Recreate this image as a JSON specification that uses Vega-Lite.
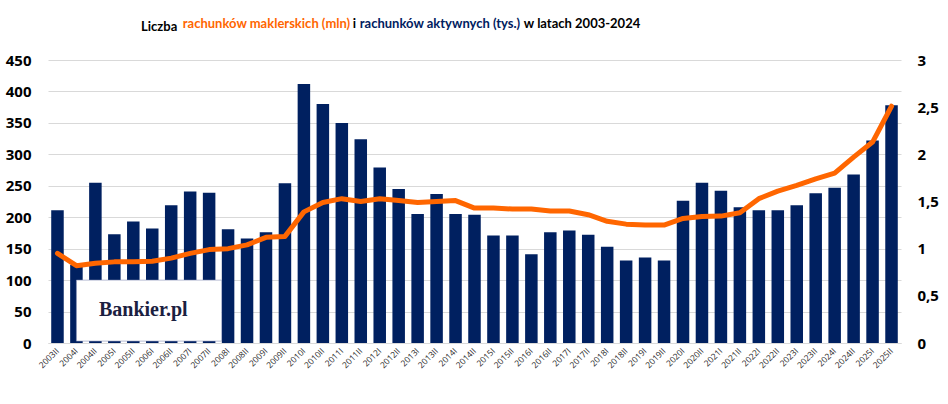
{
  "$schema": "https://vega.github.io/schema/vega-lite/v6.json",
  "width": 853,
  "height": 283,
  "autosize": {"type": "none"},
  "padding": {"left": 48, "top": 60, "right": 47, "bottom": 61},
  "background": "white",
  "title": {
    "text": "Liczba",
    "anchor": "start",
    "frame": "group",
    "dx": 93,
    "offset": -27,
    "baseline": "alphabetic",
    "font": "Lato",
    "fontSize": 13,
    "fontWeight": "bold",
    "color": "#000000"
  },
  "config": {
    "view": {"stroke": null},
    "locale": {"number": {"decimal": ",", "thousands": " ", "grouping": [3], "currency": ["", " zł"]}},
    "axis": {
      "titleFont": "Lato",
      "titleFontSize": 13,
      "titleFontWeight": "bold",
      "titleAngle": 0,
      "titleAlign": "left",
      "titleBaseline": "alphabetic",
      "titleAnchor": null
    }
  },
  "data": {
    "values": [
      {"p": "2003II", "a": 211, "m": 0.95},
      {"p": "2004I", "a": 124, "m": 0.82},
      {"p": "2004II", "a": 255, "m": 0.845},
      {"p": "2005I", "a": 173, "m": 0.86},
      {"p": "2005II", "a": 193, "m": 0.86},
      {"p": "2006I", "a": 182, "m": 0.867},
      {"p": "2006II", "a": 219, "m": 0.9},
      {"p": "2007I", "a": 241, "m": 0.95},
      {"p": "2007II", "a": 239, "m": 0.99},
      {"p": "2008I", "a": 181, "m": 1.0},
      {"p": "2008II", "a": 166, "m": 1.04},
      {"p": "2009I", "a": 176, "m": 1.12},
      {"p": "2009II", "a": 254, "m": 1.13},
      {"p": "2010I", "a": 412, "m": 1.39},
      {"p": "2010II", "a": 380, "m": 1.49},
      {"p": "2011I", "a": 350, "m": 1.53},
      {"p": "2011II", "a": 324, "m": 1.5},
      {"p": "2012I", "a": 279, "m": 1.53},
      {"p": "2012II", "a": 245, "m": 1.51},
      {"p": "2013I", "a": 205, "m": 1.49},
      {"p": "2013II", "a": 237, "m": 1.5},
      {"p": "2014I", "a": 205, "m": 1.51},
      {"p": "2014II", "a": 204, "m": 1.43},
      {"p": "2015I", "a": 171, "m": 1.43},
      {"p": "2015II", "a": 171, "m": 1.42},
      {"p": "2016I", "a": 141, "m": 1.42},
      {"p": "2016II", "a": 176, "m": 1.4},
      {"p": "2017I", "a": 179, "m": 1.4},
      {"p": "2017II", "a": 172, "m": 1.36},
      {"p": "2018I", "a": 153, "m": 1.29},
      {"p": "2018II", "a": 131, "m": 1.26},
      {"p": "2019I", "a": 136, "m": 1.25},
      {"p": "2019II", "a": 131, "m": 1.25},
      {"p": "2020I", "a": 226, "m": 1.32},
      {"p": "2020II", "a": 255, "m": 1.34},
      {"p": "2021I", "a": 242, "m": 1.345},
      {"p": "2021II", "a": 216, "m": 1.38},
      {"p": "2022I", "a": 211, "m": 1.53},
      {"p": "2022II", "a": 211, "m": 1.61},
      {"p": "2023I", "a": 219, "m": 1.67},
      {"p": "2023II", "a": 238, "m": 1.74},
      {"p": "2024I", "a": 247, "m": 1.8},
      {"p": "2024II", "a": 268, "m": 1.97},
      {"p": "2025I", "a": 322, "m": 2.13},
      {"p": "2025II", "a": 378, "m": 2.51}
    ]
  },
  "layer": [
    {
      "encoding": {
        "x": {
          "field": "p",
          "type": "ordinal",
          "sort": null,
          "title": "w latach 2003-2024",
          "scale": {"paddingInner": 0.34, "paddingOuter": 0.17},
          "axis": {
            "orient": "bottom",
            "labelAngle": -45,
            "labelAlign": "right",
            "labelBaseline": "middle",
            "labelFont": "Open Sans",
            "labelFontSize": 8.5,
            "labelColor": "#262626",
            "labelPadding": 6,
            "ticks": false,
            "domainColor": "#d9d9d9",
            "titleX": 475.3,
            "titleY": -316,
            "titleColor": "#000000"
          }
        }
      },
      "layer": [
        {
          "mark": {"type": "bar", "color": "#002060"},
          "encoding": {
            "y": {
              "field": "a",
              "type": "quantitative",
              "title": "rachunków maklerskich (mln)",
              "scale": {"domain": [0, 450]},
              "axis": {
                "values": [0, 50, 100, 150, 200, 250, 300, 350, 400, 450],
                "labelFont": "Open Sans",
                "labelFontSize": 15,
                "labelFontWeight": "bold",
                "labelColor": "#000000",
                "labelPadding": 17,
                "ticks": false,
                "domain": false,
                "gridColor": "#d9d9d9",
                "gridWidth": 1,
                "titleX": 134.3,
                "titleY": -33,
                "titleColor": "#ff6600"
              }
            }
          }
        },
        {
          "data": {"values": [{}]},
          "mark": {"type": "rect", "color": "white", "stroke": "#8a93b8", "strokeWidth": 0.6, "x2Offset": -6.5},
          "encoding": {
            "x": {"datum": "2004I"},
            "x2": {"datum": "2008I"},
            "y": {
              "datum": 100,
              "type": "quantitative",
              "title": "rachunków maklerskich (mln)",
              "axis": {
                "values": [0, 50, 100, 150, 200, 250, 300, 350, 400, 450],
                "labelFont": "Open Sans",
                "labelFontSize": 15,
                "labelFontWeight": "bold",
                "labelColor": "#000000",
                "labelPadding": 17,
                "ticks": false,
                "domain": false,
                "gridColor": "#d9d9d9",
                "gridWidth": 1,
                "titleX": 134.3,
                "titleY": -33,
                "titleColor": "#ff6600"
              }
            },
            "y2": {"datum": 3}
          }
        },
        {
          "data": {"values": [{"t": "Bankier.pl"}]},
          "mark": {"type": "text", "font": "Liberation Serif", "fontSize": 20, "fontWeight": "bold", "color": "#1b2040", "dx": 10, "baseline": "middle"},
          "encoding": {
            "x": {"datum": "2005II", "band": 0.5},
            "y": {
              "datum": 52,
              "type": "quantitative",
              "title": "rachunków maklerskich (mln)",
              "axis": {
                "values": [0, 50, 100, 150, 200, 250, 300, 350, 400, 450],
                "labelFont": "Open Sans",
                "labelFontSize": 15,
                "labelFontWeight": "bold",
                "labelColor": "#000000",
                "labelPadding": 17,
                "ticks": false,
                "domain": false,
                "gridColor": "#d9d9d9",
                "gridWidth": 1,
                "titleX": 134.3,
                "titleY": -33,
                "titleColor": "#ff6600"
              }
            },
            "text": {"field": "t"}
          }
        }
      ]
    },
    {
      "mark": {"type": "line", "color": "#ff6600", "strokeWidth": 5, "strokeJoin": "round", "strokeCap": "round"},
      "encoding": {
        "x": {
          "field": "p",
          "type": "ordinal",
          "sort": null,
          "title": "i",
          "scale": {"paddingInner": 0.34, "paddingOuter": 0.17},
          "axis": {
            "orient": "top",
            "labels": false,
            "ticks": false,
            "domain": false,
            "grid": false,
            "titleX": 304.3,
            "titleY": -33,
            "titleColor": "#000000"
          }
        },
        "y": {
          "field": "m",
          "type": "quantitative",
          "title": "rachunków aktywnych (tys.)",
          "scale": {"domain": [0, 3]},
          "axis": {
            "orient": "right",
            "values": [0, 0.5, 1, 1.5, 2, 2.5, 3],
            "format": "~r",
            "grid": false,
            "labelFont": "Open Sans",
            "labelFontSize": 15,
            "labelFontWeight": "bold",
            "labelColor": "#000000",
            "labelPadding": 16,
            "ticks": false,
            "domain": false,
            "titleX": -541.7,
            "titleY": -33,
            "titleColor": "#002060"
          }
        }
      }
    }
  ],
  "resolve": {"scale": {"y": "independent", "x": "independent"}}
}
